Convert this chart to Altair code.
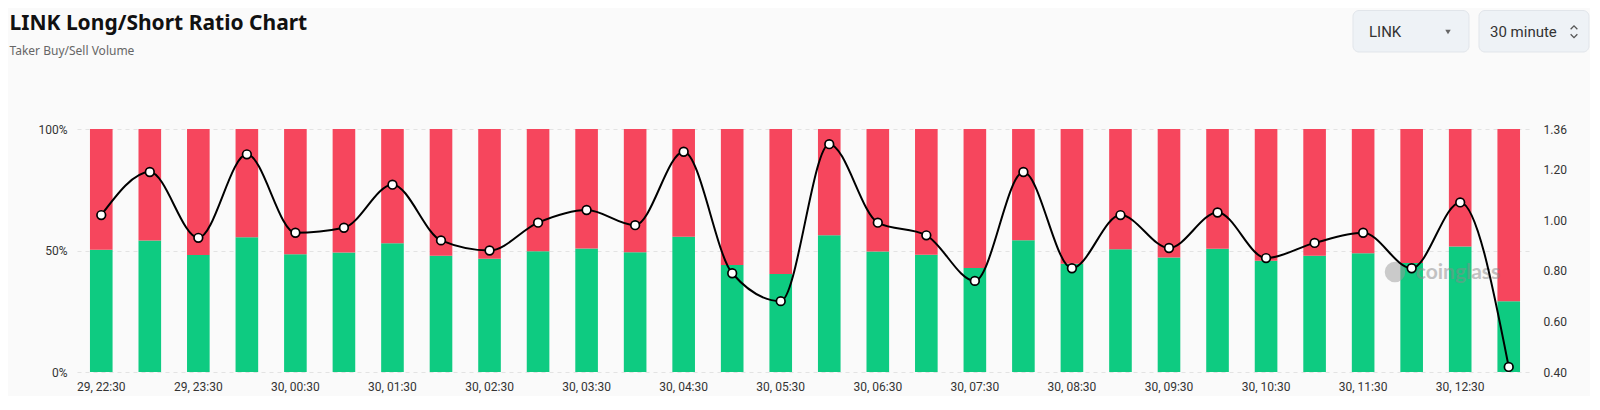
import altair as alt
import pandas as pd

# ---------------- data ----------------
categories = [
    "29, 22:30", "29, 23:00", "29, 23:30", "30, 00:00", "30, 00:30", "30, 01:00",
    "30, 01:30", "30, 02:00", "30, 02:30", "30, 03:00", "30, 03:30", "30, 04:00",
    "30, 04:30", "30, 05:00", "30, 05:30", "30, 06:00", "30, 06:30", "30, 07:00",
    "30, 07:30", "30, 08:00", "30, 08:30", "30, 09:00", "30, 09:30", "30, 10:00",
    "30, 10:30", "30, 11:00", "30, 11:30", "30, 12:00", "30, 12:30", "30, 13:00",
]
long_pct = [
    50.3, 54.1, 48.1, 55.5, 48.5, 49.2, 53.0, 47.8, 46.6, 49.7,
    50.8, 49.3, 55.7, 44.0, 40.3, 56.3, 49.6, 48.2, 42.8, 54.2,
    44.5, 50.5, 47.1, 50.7, 45.8, 47.8, 48.9, 44.9, 51.6, 29.1,
]
ratio = [
    1.02, 1.19, 0.93, 1.26, 0.95, 0.97, 1.14, 0.92, 0.88, 0.99,
    1.04, 0.98, 1.27, 0.79, 0.68, 1.30, 0.99, 0.94, 0.76, 1.19,
    0.81, 1.02, 0.89, 1.03, 0.85, 0.91, 0.95, 0.81, 1.07, 0.42,
]
x_tick_labels = categories[::2]
pct_ticks = [0, 50, 100]
ratio_ticks = [0.40, 0.60, 0.80, 1.00, 1.20, 1.36]

TITLE = "LINK Long/Short Ratio Chart"
SUBTITLE = "Taker Buy/Sell Volume"

GREEN = "#0ECB81"
RED = "#F6465D"
FONT = "Roboto"

df = pd.DataFrame({"time": categories, "long": long_pct, "ratio": ratio})

x_enc = alt.X(
    "time:N",
    sort=categories,
    scale=alt.Scale(paddingInner=0.534, paddingOuter=0.267),
    axis=alt.Axis(values=x_tick_labels, labelAngle=0, title=None, labelPadding=9,
                  grid=False, ticks=False, domain=False),
)

pct_scale = alt.Scale(domain=[0, 100], nice=False, zero=True)
pct_axis = alt.Axis(orient="left", values=pct_ticks, labelExpr="datum.value + '%'",
                    title=None, labelPadding=10)

base = alt.Chart(df)

green = base.mark_bar(color=GREEN).encode(
    x=x_enc,
    y=alt.Y("long:Q", scale=pct_scale, axis=pct_axis),
)
red = base.mark_bar(color=RED).encode(
    x=x_enc,
    y=alt.Y("long:Q", scale=pct_scale, axis=pct_axis),
    y2=alt.datum(100),
)
bars = alt.layer(green, red)

ratio_scale = alt.Scale(domain=[0.40, 1.36], nice=False, zero=False)
ratio_axis = alt.Axis(orient="right", values=ratio_ticks, format=".2f", title=None,
                      labelPadding=10)

line = base.mark_line(interpolate="monotone", color="black", strokeWidth=2).encode(
    x=x_enc,
    y=alt.Y("ratio:Q", scale=ratio_scale, axis=ratio_axis),
)
points = base.mark_point(filled=True, fill="white", stroke="black", strokeWidth=1.7,
                         size=75, opacity=1).encode(
    x=x_enc,
    y=alt.Y("ratio:Q", scale=ratio_scale, axis=ratio_axis),
)
lines = alt.layer(line, points)

one = pd.DataFrame({"k": [0]})

# coinglass watermark
wm_logo = alt.Chart(one).mark_point(
    shape="circle", filled=True, size=420, color="#9a9a9a", opacity=0.5,
).encode(x=alt.value(1318), y=alt.value(143))
watermark = alt.Chart(one).mark_text(
    text="coinglass", font="Lato", fontSize=21, fontWeight="bold",
    color="#8a8a8a", opacity=0.5, align="center", baseline="middle",
).encode(x=alt.value(1381), y=alt.value(144))

# chart title and subtitle (placed above the plot area)
title_txt = alt.Chart(one).mark_text(
    text=TITLE, font="Noto Sans", fontSize=21, fontWeight="bold", color="#111111",
    align="left", baseline="alphabetic",
).encode(x=alt.value(-67.5), y=alt.value(-99.5))
subtitle_txt = alt.Chart(one).mark_text(
    text=SUBTITLE, font="Noto Sans", fontSize=12, color="#666666",
    align="left", baseline="alphabetic",
).encode(x=alt.value(-67.5), y=alt.value(-74.5))

# drop-down boxes (page widgets)
box1 = alt.Chart(one).mark_rect(fill="#EEF2F6", stroke="#E1E5EA", cornerRadius=6).encode(
    x=alt.value(1276), x2=alt.value(1392), y=alt.value(-118.5), y2=alt.value(-77))
box2 = alt.Chart(one).mark_rect(fill="#EEF2F6", stroke="#E1E5EA", cornerRadius=6).encode(
    x=alt.value(1402), x2=alt.value(1512), y=alt.value(-118.5), y2=alt.value(-77))
txt1 = alt.Chart(one).mark_text(text="LINK", font=FONT, fontSize=15, color="#333",
                                align="left", baseline="middle").encode(
    x=alt.value(1292), y=alt.value(-97.5))
txt2 = alt.Chart(one).mark_text(text="30 minute", font=FONT, fontSize=15, color="#333",
                                align="left", baseline="middle").encode(
    x=alt.value(1413), y=alt.value(-97.5))
caret = alt.Chart(one).mark_point(shape="triangle-down", filled=True, size=30,
                                  color="#666", opacity=1).encode(
    x=alt.value(1371), y=alt.value(-97))
chev_up = alt.Chart(one).mark_point(shape="M-1,0.5L0,-0.5L1,0.5", filled=False, size=45,
                                    strokeWidth=1.3, color="#555", opacity=1).encode(
    x=alt.value(1497), y=alt.value(-101.5))
chev_dn = alt.Chart(one).mark_point(shape="M-1,-0.5L0,0.5L1,-0.5", filled=False, size=45,
                                    strokeWidth=1.3, color="#555", opacity=1).encode(
    x=alt.value(1497), y=alt.value(-93))

chart = alt.layer(
    bars, wm_logo, watermark, lines, title_txt, subtitle_txt,
    box1, box2, txt1, txt2, caret, chev_up, chev_dn
).resolve_scale(
    y="independent"
).properties(
    width=1456,
    height=243,
    autosize=alt.AutoSizeParams(type="none"),
    padding={"left": 69, "top": 121, "right": 57, "bottom": 24},
    background="#fafafa",
).configure_view(
    stroke=None
).configure_axis(
    labelFont=FONT, labelFontSize=12, labelColor="#333333",
    ticks=False, domain=False,
    gridColor="#E3E3E3", gridDash=[4, 4], gridWidth=1,
)

chart.save("out.html", embed_options={"renderer": "svg", "actions": False})
